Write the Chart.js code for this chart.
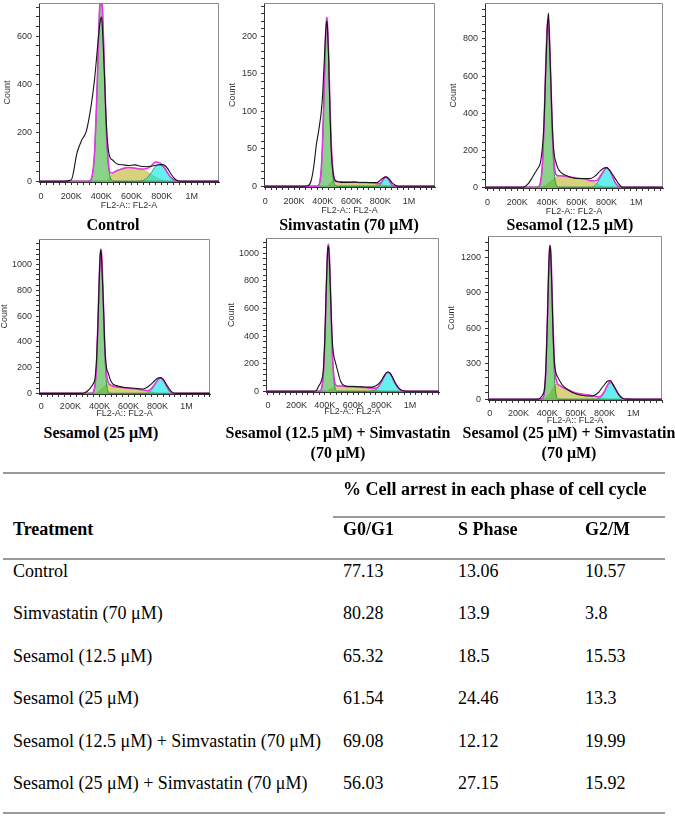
<!DOCTYPE html>
<html>
<head>
<meta charset="utf-8">
<script src="https://cdn.jsdelivr.net/npm/chart.js@4.4.1/dist/chart.umd.min.js"></script>
<style>
  body { margin: 0; background: #fff; }
  #page { position: relative; width: 675px; height: 816px; overflow: hidden; background: #fff;
          font-family: "Liberation Serif", "Times New Roman", serif; color: #000; }
  #page canvas { position: absolute; }
  .cap { position: absolute; font-weight: bold; font-size: 16px; line-height: 20px;
         white-space: nowrap; transform: translateX(-50%); }
  .cell { position: absolute; font-size: 18px; line-height: 22px; white-space: nowrap; }
  .bold { font-weight: bold; }
  .rule { position: absolute; height: 2px; background: #9a9a9a; }
</style>
</head>
<body>
<div id="page"></div>
<script>
// FL2-A channel (thousands) shared by all six histograms
const fl2 = [-20, 150, 200, 240, 270, 300, 320, 340, 355, 370, 380, 390, 400, 405, 410, 415, 420, 425, 430, 435,
             440, 450, 460, 475, 490, 510, 540, 580, 620, 660, 700, 730, 760, 780, 800, 820, 840, 860, 880, 900,
             925, 950, 1000, 1210];

// Control
const ctrlRaw = [0,0,5,120,170,205,265,345,420,520,590,650,680,655,600,530,450,365,280,220,
                 170,115,95,88,78,70,68,65,68,62,60,62,66,68,69,66,52,32,14,4, 0,0,0,0];
const ctrlG1  = [0,0,0,0,0,0,1,24,116,347,558,730,777,741,672,579,473,367,272,190,
                 126,48,15,2,0,0,0,0,0,0,0,0,0,0,0,0,0,0,0,0, 0,0,0,0];
const ctrlS   = [0,0,0,0,0,0,0,0,0,0,0,0,0,0,0,0,0,0,0,0,
                 3,10,20,32,40,46,52,57,55,50,40,28,17,10,6,3,1,0,0,0, 0,0,0,0];
const ctrlG2  = [0,0,0,0,0,0,0,0,0,0,0,0,0,0,0,0,0,0,0,0,
                 0,0,0,0,0,0,0,0,0,1,12,35,62,68,65,52,33,16,6,1, 0,0,0,0];
const ctrlFit = [0,0,0,0,0,0,1,24,116,347,558,730,777,741,672,579,473,367,272,190,
                 129,58,35,34,40,46,52,57,55,51,52,63,79,78,71,55,34,16,6,1, 0,0,0,0];

// Simvastatin (70 uM)
const simRaw = [0,0,0,0,0,1,8,30,55,72,85,100,125,145,165,185,205,215,220,200,
                175,100,45,14,7,6,5,5,5.5,5,5,5,5,5,8,11,12.5,10,5,2, 0,0,0,0];
const simG1  = [0,0,0,0,0,0,0,0,0,1,6,24,66,98,135,170,201,218,221,205,
                178,105,46,7,1,0,0,0,0,0,0,0,0,0,0,0,0,0,0,0, 0,0,0,0];
const simS   = [0,0,0,0,0,0,0,0,0,0,0,0,0,0,0,0,0,0,0,0,
                2,4,6,7,6,6,6,6,5.5,5,5,4.5,4,3,2,1,0.5,0,0,0, 0,0,0,0];
const simG2  = [0,0,0,0,0,0,0,0,0,0,0,0,0,0,0,0,0,0,0,0,
                0,0,0,0,0,0,0,0,0,0,0,0,0,0.3,2,8,12,8.5,2,0.3, 0,0,0,0];
const simFit = [0,0,0,0,0,0,0,0,0,1,6,24,66,98,135,170,201,220,225,205,
                180,109,52,14,7,6,6,6,5.5,5,5,4.5,4,3.3,4,9,12.5,8.5,2,0.3, 0,0,0,0];

// Sesamol (12.5 uM)
const ses12Raw = [0,0,0,0,15,50,78,104,130,220,340,590,820,900,940,850,720,600,470,350,
                  260,170,135,100,83,70,60,50,47,47,49,65,90,103,106,92,70,45,20,3, 0,0,0,0];
const ses12G1  = [0,0,0,0,0,0,0,2,21,133,324,596,831,885,879,815,704,568,427,301,
                  196,69,18,1.5,0,0,0,0,0,0,0,0,0,0,0,0,0,0,0,0, 0,0,0,0];
const ses12S   = [0,0,0,0,0,0,0,0,0,0,5,10,15,18,21,25,28,31,34,37,
                  40,46,52,60,62,60,57,52,47,44,35,20,8,3,0,0,0,0,0,0, 0,0,0,0];
const ses12G2  = [0,0,0,0,0,0,0,0,0,0,0,0,0,0,0,0,0,0,0,0,
                  0,0,0,0,0,0,0,0,0,0,0,15,55,85,106,92,58,22,5,0, 0,0,0,0];
const ses12Fit = [0,0,0,0,0,0,0,2,21,133,329,606,846,903,900,840,732,599,461,338,
                  236,115,70,62,62,60,57,52,47,44,35,35,63,88,106,92,58,22,5,0, 0,0,0,0];

// Sesamol (25 uM)
const ses25Raw = [0,0,0,0,0,5,20,45,70,120,260,560,930,1070,1115,1050,900,760,600,420,
                  300,190,160,105,75,62,52,45,41,38,34,48,75,98,117,122,108,72,36,10, 0,0,0,0];
const ses25G1  = [0,0,0,0,0,0,0,0,6,68,229,547,917,1044,1090,1044,917,739,547,370,
                  229,68,14,1,0,0,0,0,0,0,0,0,0,0,0,0,0,0,0,0, 0,0,0,0];
const ses25S   = [0,0,0,0,0,0,0,0,0,0,0,10,20,25,30,35,40,45,50,55,
                  60,70,72,65,58,52,47,42,38,33,26,18,10,5,2,0,0,0,0,0, 0,0,0,0];
const ses25G2  = [0,0,0,0,0,0,0,0,0,0,0,0,0,0,0,0,0,0,0,0,
                  0,0,0,0,0,0,0,0,0,0,0,2,30,65,100,118,100,60,22,5, 0,0,0,0];
const ses25Fit = [0,0,0,0,0,0,0,0,6,68,229,557,937,1069,1120,1079,957,784,597,425,
                  289,138,86,66,58,52,47,42,38,33,26,20,40,70,102,120,100,60,22,5, 0,0,0,0];

// Sesamol (12.5 uM) + Simvastatin (70 uM)
const comboARaw = [0,0,0,0,0,0,0,5,35,60,90,160,380,560,740,900,1020,1050,1000,880,
                   720,420,280,210,150,75,40,35,34,32,30,30,40,55,80,115,140,132,95,55, 20,4,0,0];
const comboAG1  = [0,0,0,0,0,0,0,0,0,6,32,127,360,530,718,891,1015,1060,1015,891,
                   718,360,127,14,1,0,0,0,0,0,0,0,0,0,0,0,0,0,0,0, 0,0,0,0];
const comboAS   = [0,0,0,0,0,0,0,0,0,0,0,0,0,0,0,0,5,7,10,12,
                   15,22,28,35,38,38,36,34,33,30,26,20,12,7,3,1,0,0,0,0, 0,0,0,0];
const comboAG2  = [0,0,0,0,0,0,0,0,0,0,0,0,0,0,0,0,0,0,0,0,
                   0,0,0,0,0,0,0,0,0,0,0,3,11,32,69,111,136,128,90,48, 15,3,0,0];
const comboAFit = [0,0,0,0,0,0,0,0,0,6,32,127,360,530,718,891,1020,1067,1025,903,
                   733,382,155,49,39,38,36,34,33,30,26,23,23,39,72,112,138,128,90,48, 15,3,0,0];

// Sesamol (25 uM) + Simvastatin (70 uM)
const comboBRaw = [0,0,0,0,0,0,0,3,15,40,75,230,590,830,1060,1240,1298,1230,1060,840,
                   620,320,230,185,150,115,85,55,38,30,28,35,60,95,125,152,158,122,80,40, 10,1,0,0];
const comboBG1  = [0,0,0,0,0,0,0,0,0,10,55,215,572,805,1029,1192,1250,1192,1029,805,
                   572,215,55,3,0,0,0,0,0,0,0,0,0,0,0,0,0,0,0,0, 0,0,0,0];
const comboBS   = [0,0,0,0,0,0,0,0,0,0,0,10,20,27,35,42,50,60,70,80,
                   90,108,125,125,115,100,82,62,48,40,33,25,15,8,3,0,0,0,0,0, 0,0,0,0];
const comboBG2  = [0,0,0,0,0,0,0,0,0,0,0,0,0,0,0,0,0,0,0,0,
                   0,0,0,0,0,0,0,0,0,0,0,1,7,26,65,113,138,118,75,35, 8,1,0,0];
const comboBFit = [0,0,0,0,0,0,0,0,0,10,55,225,592,832,1064,1234,1300,1252,1099,885,
                   662,323,180,128,115,100,82,62,48,40,33,26,22,34,68,120,148,122,75,35, 8,1,0,0];

// axis labels
const xTickValues = [0, 200, 400, 600, 800, 1000];
const xTickLabels = ['0', '200K', '400K', '600K', '800K', '1M'];
const ctrlYTicks  = [0, 200, 400, 600];
const simYTicks   = [0, 50, 100, 150, 200];
const ses12YTicks = [0, 200, 400, 600, 800];
const ses25YTicks = [0, 200, 400, 600, 800, 1000];
const comboAYTicks = [0, 200, 400, 600, 800, 1000];
const comboBYTicks = [0, 300, 600, 900, 1200];

// table
const treatments = ['Control', 'Simvastatin (70 μM)', 'Sesamol (12.5 μM)', 'Sesamol (25 μM)',
                    'Sesamol (12.5 μM) + Simvastatin (70 μM)', 'Sesamol (25 μM) + Simvastatin (70 μM)'];
const phases = ['G0/G1', 'S Phase', 'G2/M'];
const g0g1   = ['77.13', '80.28', '65.32', '61.54', '69.08', '56.03'];
const sPhase = ['13.06', '13.9', '18.5', '24.46', '12.12', '27.15'];
const g2m    = ['10.57', '3.8', '15.53', '13.3', '19.99', '15.92'];

const page = document.getElementById('page');
const AX_FONT = '"Liberation Sans", Arial, sans-serif';
const YW = 42, PAD_T = 10, PAD_R = 8;

// box = [left, right, top, bottom] of the plot area on the page
const panels = [
  { raw: ctrlRaw, g1: ctrlG1, s: ctrlS, g2: ctrlG2, fit: ctrlFit, yTicks: ctrlYTicks, yStep: 40,
    box: [39, 219, 3, 182], x: [-13, 1180], y: [-3, 737], lp: 6, xh: 29, tp: 5.6 },
  { raw: simRaw, g1: simG1, s: simS, g2: simG2, fit: simFit, yTicks: simYTicks, yStep: 10,
    box: [264, 435, 3, 187], x: [-9, 1181], y: [-1, 244], lp: 6, xh: 29, tp: 5.6 },
  { raw: ses12Raw, g1: ses12G1, s: ses12S, g2: ses12G2, fit: ses12Fit, yTicks: ses12YTicks, yStep: 40,
    box: [485, 663, 3, 188], x: [-16, 1179], y: [-4, 994], lp: 6, xh: 29, tp: 5.6 },
  { raw: ses25Raw, g1: ses25G1, s: ses25S, g2: ses25G2, fit: ses25Fit, yTicks: ses25YTicks, yStep: 40,
    box: [39, 210, 239, 394], x: [-16, 1161], y: [-5, 1198], lp: 4, xh: 25, tp: 2.6 },
  { raw: comboARaw, g1: comboAG1, s: comboAS, g2: comboAG2, fit: comboAFit, yTicks: comboAYTicks, yStep: 40,
    box: [266, 439, 238, 392], x: [-14, 1204], y: [-5, 1110], lp: 5, xh: 25, tp: 2.6 },
  { raw: comboBRaw, g1: comboBG1, s: comboBS, g2: comboBG2, fit: comboBFit, yTicks: comboBYTicks, yStep: 60,
    box: [488, 662, 236, 400], x: [-12, 1200], y: [-6, 1379], lp: 5, xh: 26, tp: 0.6 },
];

function minorTicks(lo, hi, step) {
  const out = [];
  for (let v = lo; v <= hi; v += step) out.push(v);
  return out;
}

// light grey top / right edges of the plot frame
const frame = {
  id: 'frame',
  beforeDatasetsDraw(chart) {
    const { ctx, chartArea: a } = chart;
    ctx.save();
    ctx.strokeStyle = '#8c8c8c';
    ctx.lineWidth = 1;
    ctx.beginPath();
    ctx.moveTo(Math.round(a.left), Math.round(a.top) + 0.5);
    ctx.lineTo(Math.round(a.right) - 0.5, Math.round(a.top) + 0.5);
    ctx.lineTo(Math.round(a.right) - 0.5, Math.round(a.bottom));
    ctx.stroke();
    ctx.restore();
  }
};

function drawPanel(p) {
  const [L, R, T, B] = p.box;
  const w = YW + (R - L) + PAD_R, h = PAD_T + (B - T) + p.xh;
  const cv = document.createElement('canvas');
  cv.width = w; cv.height = h;
  cv.style.left = (L - YW) + 'px';
  cv.style.top = (T - PAD_T) + 'px';
  cv.style.width = w + 'px';
  cv.style.height = h + 'px';
  page.appendChild(cv);

  const pts = arr => fl2.map((x, i) => ({ x: x, y: arr[i] }));
  const tickFont = { family: AX_FONT, size: 9 };

  new Chart(cv, {
    type: 'line',
    data: {
      datasets: [
        { data: pts(p.raw), borderColor: '#151515', borderWidth: 1.1, fill: false, order: 0 },
        { data: pts(p.fit), borderColor: '#e436e4', borderWidth: 1.6, fill: false, order: 1 },
        { data: pts(p.g1), borderColor: '#2f8a3a', borderWidth: 1, backgroundColor: 'rgba(60,180,60,0.6)', fill: 'origin', order: 2 },
        { data: pts(p.g2), borderColor: '#3c9468', borderWidth: 1, backgroundColor: 'rgba(0,228,228,0.6)', fill: 'origin', order: 3 },
        { data: pts(p.s), borderColor: 'rgba(170,160,40,0.7)', borderWidth: 0.8, backgroundColor: 'rgba(190,180,40,0.6)', fill: 'origin', order: 4 },
      ]
    },
    options: {
      responsive: false,
      animation: false,
      devicePixelRatio: 1,
      layout: { padding: { top: PAD_T, right: PAD_R, left: 0, bottom: 0 } },
      elements: { point: { radius: 0 }, line: { cubicInterpolationMode: 'monotone' } },
      plugins: { legend: { display: false }, tooltip: { enabled: false } },
      scales: {
        x: {
          type: 'linear', min: p.x[0], max: p.x[1],
          afterBuildTicks: s => { s.ticks = minorTicks(0, p.x[1], 40).map(v => ({ value: v })); },
          afterFit: s => { s.height = p.xh; },
          ticks: {
            autoSkip: false, maxRotation: 0, padding: p.lp, color: '#333', font: tickFont,
            callback: v => { const i = xTickValues.indexOf(v); return i < 0 ? '' : xTickLabels[i]; }
          },
          grid: { drawOnChartArea: false, drawTicks: true, tickLength: 3, tickColor: '#333' },
          border: { display: true, color: '#333' },
          title: { display: true, text: 'FL2-A:: FL2-A', color: '#333', font: tickFont, padding: { top: 0, bottom: 0 } }
        },
        y: {
          min: p.y[0], max: p.y[1],
          afterBuildTicks: s => { s.ticks = minorTicks(0, p.y[1], p.yStep).map(v => ({ value: v })); },
          afterFit: s => { s.width = YW; },
          ticks: {
            autoSkip: false, padding: 4, color: '#333', font: tickFont,
            callback: v => p.yTicks.includes(v) ? String(v) : ''
          },
          grid: { drawOnChartArea: false, drawTicks: true, tickLength: 3, tickColor: '#333' },
          border: { display: true, color: '#333' },
          title: { display: true, text: 'Count', color: '#333', font: tickFont, padding: { top: p.tp, bottom: 0 } }
        }
      }
    },
    plugins: [frame]
  });
}

panels.forEach(drawPanel);

// panel captions: [text, centre x, centre y]
const captions = [
  ['Control', 113, 225], ['Simvastatin (70 μM)', 349, 225], ['Sesamol (12.5 μM)', 570, 225],
  ['Sesamol (25 μM)', 101, 433],
  ['Sesamol (12.5 μM) + Simvastatin', 338, 433], ['(70 μM)', 338, 453],
  ['Sesamol (25 μM) + Simvastatin', 569, 433], ['(70 μM)', 569, 453],
];
captions.forEach(([t, x, y]) => {
  const d = document.createElement('div');
  d.className = 'cap';
  d.textContent = t;
  d.style.left = x + 'px';
  d.style.top = (y - 10) + 'px';
  page.appendChild(d);
});

// table
function rule(x1, x2, y) {
  const d = document.createElement('div');
  d.className = 'rule';
  d.style.left = x1 + 'px';
  d.style.width = (x2 - x1) + 'px';
  d.style.top = (y - 1) + 'px';
  page.appendChild(d);
}
function cell(text, x, y, bold) {
  const d = document.createElement('div');
  d.className = 'cell' + (bold ? ' bold' : '');
  d.textContent = text;
  d.style.left = x + 'px';
  d.style.top = (y - 11) + 'px';
  page.appendChild(d);
}
const colX = [343, 458, 585];
rule(3, 665, 473);
cell('% Cell arrest in each phase of cell cycle', 343, 489, true);
rule(333, 665, 517);
cell('Treatment', 13, 529, true);
phases.forEach((t, j) => cell(t, colX[j], 529, true));
rule(3, 665, 559);
treatments.forEach((t, i) => {
  const y = 571 + i * 42.4;
  cell(t, 13, y, false);
  cell(g0g1[i], colX[0], y, false);
  cell(sPhase[i], colX[1], y, false);
  cell(g2m[i], colX[2], y, false);
});
rule(3, 665, 813);
</script>
</body>
</html>
